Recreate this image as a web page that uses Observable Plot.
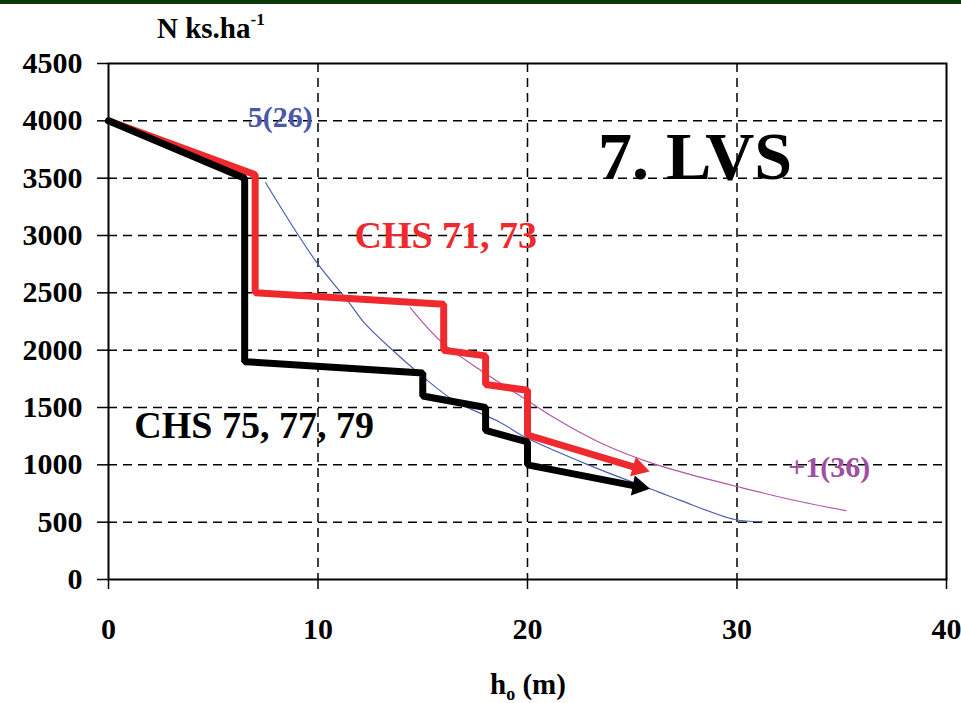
<!DOCTYPE html>
<html>
<head>
<meta charset="utf-8">
<script src="https://cdn.jsdelivr.net/npm/d3@7"></script>
<script src="https://cdn.jsdelivr.net/npm/@observablehq/plot@0.6"></script>
<style>
  html, body { margin: 0; padding: 0; background: #fff; }
  #wrap { position: relative; width: 961px; height: 703px; overflow: hidden; }
  #bar { position: absolute; left: 0; top: 0; width: 961px; height: 4px; background: #0a3a0a; z-index: 2; }
</style>
</head>
<body>
<div id="wrap"><div id="bar"></div></div>
<script>
// ---- data ----
const xTicks = [0, 10, 20, 30, 40];
const yTicks = [0, 500, 1000, 1500, 2000, 2500, 3000, 3500, 4000, 4500];
const xGrid = [10, 20, 30];
const yGrid = [500, 1000, 1500, 2000, 2500, 3000, 3500, 4000];

// CHS 75, 77, 79 (black)
const blackX = [0, 6.5, 6.5, 15, 15, 18, 18, 20, 20, 25.3];
const blackY = [4000, 3500, 1900, 1800, 1600, 1500, 1300, 1200, 1000, 810];
// CHS 71, 73 (red)
const redX = [0, 7, 7, 16, 16, 18, 18, 20, 20, 25.3];
const redY = [4000, 3530, 2500, 2400, 2000, 1950, 1700, 1650, 1260, 970];
// 5(26) curve (blue)
const blueX = [7.5, 9, 10, 11.5, 12.2, 13.5, 15, 16.5, 18.7, 19.9, 22.9, 26.3, 27.3, 29.9, 31.2];
const blueY = [3460, 3020, 2750, 2410, 2240, 2010, 1770, 1560, 1370, 1240, 1000, 760, 690, 523, 505];
// +1(36) curve (purple)
const purpleX = [14.4, 15.9, 17.8, 20, 21.1, 23.5, 26, 28.3, 29.8, 32.5, 35.2];
const purpleY = [2370, 2070, 1820, 1560, 1430, 1190, 1010, 890, 820, 700, 600];

// annotations
const labelText = ["5(26)", "7. LVS", "CHS 71, 73", "CHS 75, 77, 79", "+1(36)"];
const labelX = [8.2, 28.0, 16.1, 6.95, 34.4];
const labelY = [4030, 3680, 3000, 1339, 977];

// ---- styling ----
const RED = "#ee2a2e", BLUE = "#4a5fb2", PURPLE = "#b058aa";
const labelColor = [ "#4b57a8", "#000000", RED, "#000000", "#a04ea2"];
const labelSize = [30, 68, 38, 38, 30];
const FONT = "'Liberation Serif', 'Times New Roman', serif";

const zip = (xs, ys) => xs.map((x, i) => ({x, y: ys[i]}));
const black = zip(blackX, blackY);
const red = zip(redX, redY);
const blue = zip(blueX, blueY);
const purple = zip(purpleX, purpleY);
const labels = labelText.map((t, i) => ({t, x: labelX[i], y: labelY[i], c: labelColor[i], s: labelSize[i]}));

function build(rotBlack, rotRed) {
  const labelMarks = labels.map(d => Plot.text([d], {
    x: "x", y: "y", text: "t", fill: d.c, fontSize: d.s, fontWeight: "bold",
    fontFamily: FONT, textAnchor: "middle", lineAnchor: "middle"
  }));
  return Plot.plot({
    width: 961, height: 703,
    marginLeft: 108, marginRight: 15, marginTop: 63, marginBottom: 124,
    x: {domain: [0, 40]},
    y: {domain: [0, 4500]},
    style: {fontFamily: FONT, background: "transparent", color: "black", overflow: "visible"},
    marks: [
      Plot.gridX(xGrid, {stroke: "black", strokeOpacity: 1, strokeWidth: 1.5, strokeDasharray: "9,6"}),
      Plot.gridY(yGrid, {stroke: "black", strokeOpacity: 1, strokeWidth: 1.5, strokeDasharray: "9,6"}),
      Plot.axisX(xTicks, {tickSize: 10, tickPadding: 28, fontSize: 30, fontWeight: "bold", strokeWidth: 1.5, label: null, fontFamily: FONT, tickFormat: d => String(d)}),
      Plot.axisY(yTicks, {tickSize: 11, tickPadding: 15, fontSize: 30, fontWeight: "bold", strokeWidth: 1.5, label: null, fontFamily: FONT, tickFormat: d => String(d)}),
      Plot.frame({stroke: "black", strokeWidth: 2}),
      Plot.line(blue, {x: "x", y: "y", stroke: BLUE, strokeWidth: 1.2, curve: "catmull-rom"}),
      Plot.line(purple, {x: "x", y: "y", stroke: PURPLE, strokeWidth: 1.2, curve: "catmull-rom"}),
      Plot.line(red, {x: "x", y: "y", stroke: RED, strokeWidth: 7, strokeLinejoin: "miter"}),
      Plot.dot([red[red.length - 1]], {x: "x", y: "y", symbol: "triangle", r: 7.5, fill: RED, stroke: null, rotate: rotRed}),
      Plot.line(black, {x: "x", y: "y", stroke: "black", strokeWidth: 7, strokeLinejoin: "miter"}),
      Plot.dot([black[black.length - 1]], {x: "x", y: "y", symbol: "triangle", r: 7.5, fill: "black", stroke: null, rotate: rotBlack}),
      ...labelMarks
    ]
  });
}

// first pass to get the scales, used to orient the arrowheads
const probe = build(0, 0);
const sx = probe.scale("x"), sy = probe.scale("y");
function angle(a, b) {
  const dx = sx.apply(b.x) - sx.apply(a.x);
  const dy = sy.apply(b.y) - sy.apply(a.y);
  return 90 + Math.atan2(dy, dx) * 180 / Math.PI;
}
const rotBlack = angle(black[black.length - 2], black[black.length - 1]);
const rotRed = angle(red[red.length - 2], red[red.length - 1]);
const chart = build(rotBlack, rotRed);

const wrap = document.getElementById("wrap");
wrap.insertBefore(chart, wrap.firstChild);
chart.style.position = "absolute";
chart.style.left = "0";
chart.style.top = "0";

// axis titles with super/subscripts
const svg = d3.select(chart);
const yt = svg.append("text")
  .attr("x", 157).attr("y", 38)
  .attr("text-anchor", "start")
  .style("font-family", FONT).style("font-weight", "bold").style("font-size", "29px")
  .attr("fill", "black");
yt.append("tspan").text("N ks.ha");
yt.append("tspan").attr("dy", -13).style("font-size", "17px").text("-1");

const xt = svg.append("text")
  .attr("x", 528).attr("y", 694).attr("text-anchor", "middle")
  .style("font-family", FONT).style("font-weight", "bold").style("font-size", "29px")
  .attr("fill", "black");
xt.append("tspan").text("h");
xt.append("tspan").attr("dy", 6).style("font-size", "18px").text("o");
xt.append("tspan").attr("dy", -6).text(" (m)");
</script>
</body>
</html>
